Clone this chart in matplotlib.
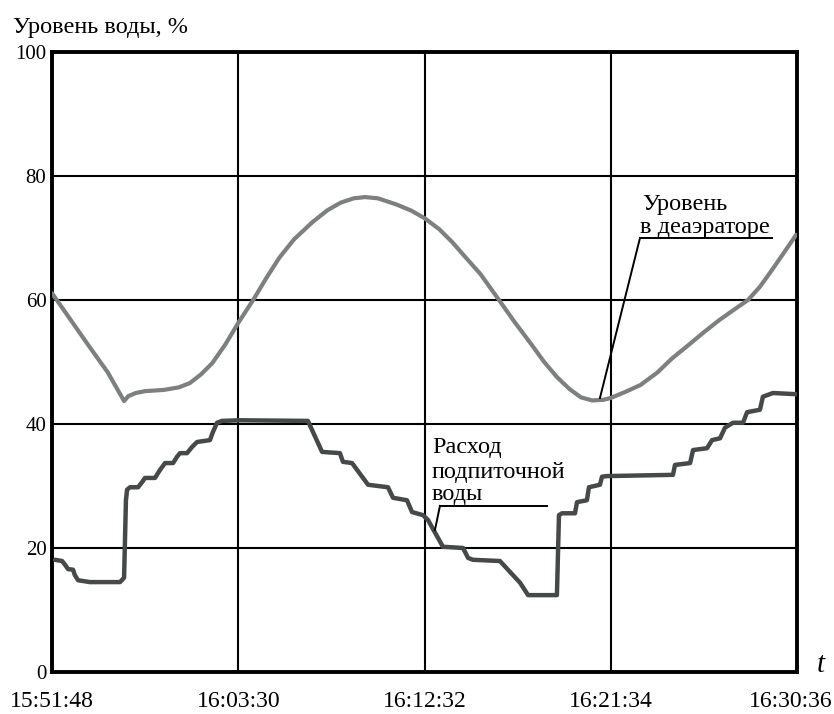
#! /usr/bin/env python3
# Water level in the deaerator and make-up water flow vs time

import numpy as np
import matplotlib
matplotlib.use("Agg")
import matplotlib.pyplot as plt
import matplotlib.transforms as mtransforms

# time axis is drawn in tick units (5 evenly spaced timestamps)
time_labels = ["15:51:48", "16:03:30", "16:12:32", "16:21:34", "16:30:36"]
y_ticks     = [0, 20, 40, 60, 80, 100]

# level in deaerator, %
level_t = [0.000, 0.100, 0.200, 0.300, 0.387, 0.410, 0.450, 0.500, 0.600,
           0.680, 0.740, 0.800, 0.860, 0.930, 1.000, 1.080, 1.150, 1.220,
           1.300, 1.400, 1.480, 1.550, 1.620, 1.680, 1.750, 1.850, 1.930,
           2.000, 2.080, 2.150, 2.220, 2.300, 2.400, 2.480, 2.570, 2.640,
           2.710, 2.780, 2.840, 2.900, 2.960, 3.000, 3.080, 3.160, 3.250,
           3.330, 3.420, 3.500, 3.580, 3.660, 3.737, 3.800, 3.860, 3.920,
           3.995]
level_v = [61.1, 56.8, 52.5, 48.3, 43.7, 44.5, 45.0, 45.3, 45.5,
           45.9, 46.6, 48.0, 49.8, 52.8, 56.3, 60.0, 63.5, 66.8,
           69.8, 72.6, 74.5, 75.7, 76.4, 76.6, 76.4, 75.4, 74.4,
           73.2, 71.4, 69.3, 66.9, 64.2, 60.0, 56.6, 53.0, 50.1,
           47.6, 45.6, 44.3, 43.8, 43.9, 44.2, 45.2, 46.3, 48.3,
           50.6, 52.8, 54.8, 56.7, 58.4, 60.0, 62.1, 64.6, 67.2,
           70.5]

# make-up water flow
flow_t = [0.016, 0.054, 0.070, 0.086, 0.113, 0.123, 0.140, 0.204, 0.365,
          0.387, 0.397, 0.403, 0.419, 0.462, 0.483, 0.499, 0.553, 0.580,
          0.607, 0.650, 0.671, 0.687, 0.725, 0.752, 0.779, 0.848, 0.864,
          0.886, 0.913, 1.009, 1.374, 1.450, 1.546, 1.562, 1.611, 1.697,
          1.804, 1.831, 1.906, 1.933, 1.992, 2.019, 2.099, 2.207, 2.234,
          2.260, 2.405, 2.513, 2.556, 2.711, 2.722, 2.738, 2.808, 2.819,
          2.872, 2.883, 2.942, 2.953, 2.980, 3.334, 3.345, 3.426, 3.442,
          3.517, 3.544, 3.587, 3.613, 3.656, 3.710, 3.732, 3.801, 3.817,
          3.871, 4.000]
flow_v = [18.1, 17.9, 17.3, 16.6, 16.5, 15.6, 14.8, 14.5, 14.5,
          15.2, 27.7, 29.4, 29.8, 29.8, 30.6, 31.3, 31.3, 32.6,
          33.7, 33.7, 34.7, 35.3, 35.3, 36.3, 37.1, 37.4, 38.7,
          40.2, 40.5, 40.6, 40.5, 35.5, 35.3, 33.9, 33.7, 30.2,
          29.8, 28.1, 27.7, 25.8, 25.3, 24.5, 20.2, 20.0, 18.4,
          18.1, 17.9, 14.4, 12.4, 12.4, 25.3, 25.6, 25.6, 27.4,
          27.7, 29.8, 30.2, 31.5, 31.6, 31.8, 33.4, 33.7, 35.8,
          36.1, 37.4, 37.7, 39.4, 40.2, 40.2, 41.9, 42.3, 44.4,
          45.0, 44.8]

serif = ["Liberation Serif", "DejaVu Serif"]


def main():
    fig = plt.figure(figsize=(8.34, 7.14), dpi=100)
    ax = fig.add_axes([52 / 834, 1 - 672 / 714, 745 / 834, 620 / 714])

    ax.plot(level_t, level_v, color="#7d8080", linewidth=3.0,
            solid_joinstyle="round", solid_capstyle="round", zorder=3)
    ax.plot(flow_t, flow_v, color="#45494a", linewidth=3.2,
            solid_joinstyle="round", solid_capstyle="round", zorder=3)

    ax.set_xlim(0, len(time_labels) - 1)
    ax.set_ylim(0, 100)
    ax.set_xticks(np.arange(len(time_labels)))
    ax.set_xticklabels(time_labels, family=serif, fontsize=17)
    ax.set_yticks(y_ticks)
    ax.set_yticklabels([str(v) for v in y_ticks], family=serif, fontsize=15)
    ax.tick_params(axis="x", length=0, pad=14)
    ax.tick_params(axis="y", length=0, pad=4)

    # shift last time label a bit left so it fits
    last = ax.get_xticklabels()[-1]
    last.set_transform(last.get_transform() +
                       mtransforms.ScaledTranslation(-6 / 100, 0, fig.dpi_scale_trans))

    ax.grid(True, color="black", linewidth=1.5, zorder=1)
    for s in ax.spines.values():
        s.set_linewidth(2.8)
        s.set_color("black")

    # annotations
    fs = 17.5
    ax.text(3.168, 74.5, "Уровень", family=serif, fontsize=fs, va="baseline")
    ax.text(3.157, 70.8, "в деаэраторе", family=serif, fontsize=fs, va="baseline")
    ax.plot([3.157, 3.866], [70.0, 70.0], color="black", lw=1.4, zorder=4)
    ax.plot([3.157, 2.942], [70.0, 44.2], color="black", lw=1.4, zorder=4)

    ax.text(2.040, 35.3, "Расход", family=serif, fontsize=fs, va="baseline")
    ax.text(2.040, 31.3, "подпиточной", family=serif, fontsize=fs, va="baseline")
    ax.text(2.040, 27.7, "воды", family=serif, fontsize=fs, va="baseline")
    ax.plot([2.083, 2.658], [26.8, 26.8], color="black", lw=1.4, zorder=4)
    ax.plot([2.083, 2.056], [26.8, 22.9], color="black", lw=1.4, zorder=4)

    fig.text(13 / 834, 1 - 27 / 714, "Уровень воды, %", family=serif,
             fontsize=17.5, va="center", ha="left")
    ax.text(1.032, 0.012, "t", transform=ax.transAxes, family=serif,
            style="italic", fontsize=21, ha="center", va="center", clip_on=False)

    fig.savefig("out.png", dpi=100)


if __name__ == "__main__":
    main()
